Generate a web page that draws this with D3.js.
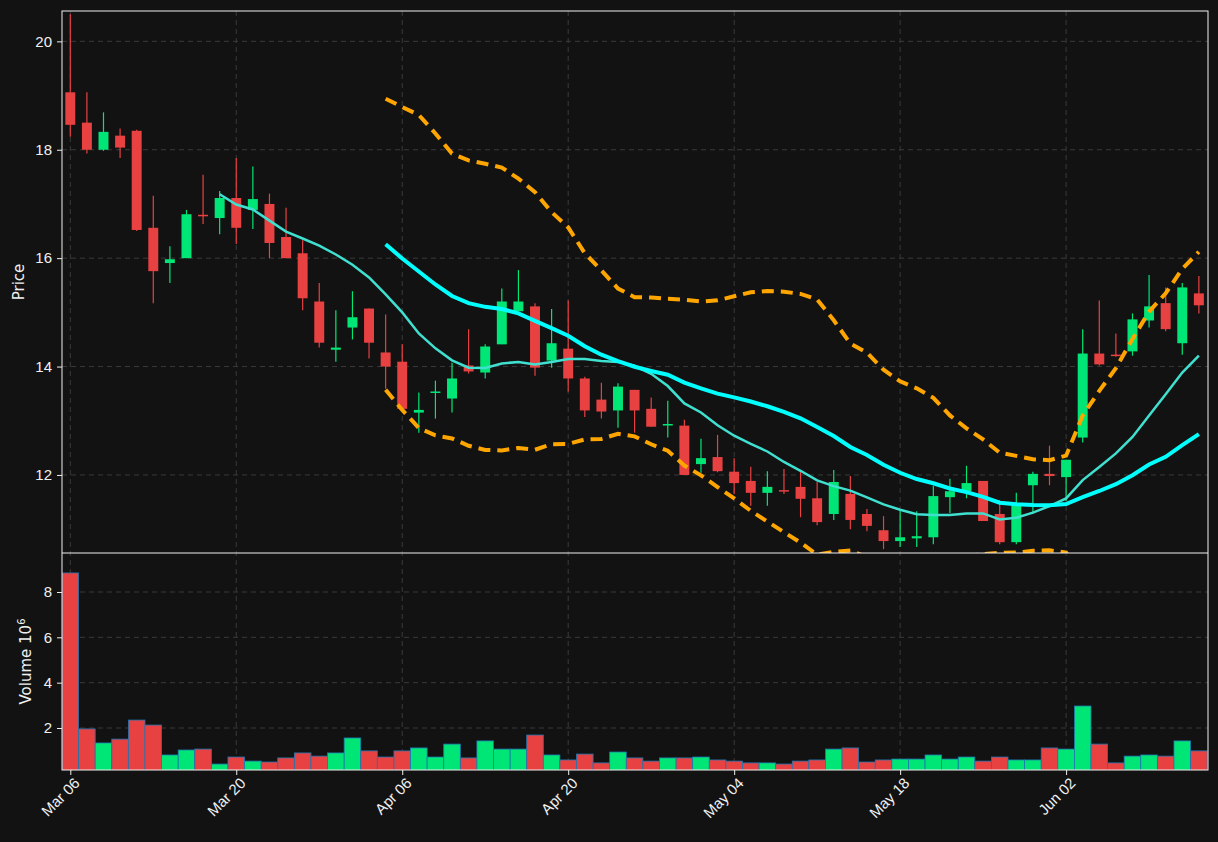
<!DOCTYPE html>
<html>
<head>
<meta charset="utf-8">
<script src="https://cdn.jsdelivr.net/npm/d3@7.9.0/dist/d3.min.js"></script>
<style>
  body { margin: 0; background: #121212; }
  svg { display: block; font-family: "DejaVu Sans", sans-serif; }
</style>
</head>
<body>
<svg id="chart" width="1218" height="842"></svg>
<script>
// OHLC, one entry per trading day
const opens  = [19.06,18.5,18.0,18.26,18.35,16.56,15.91,16.0,16.8,16.74,17.11,16.89,17.0,16.39,16.09,15.2,14.31,14.72,15.07,14.26,
  14.09,13.15,13.52,13.41,14.02,13.89,14.41,15.02,15.11,14.11,14.33,13.78,13.39,13.19,13.57,13.22,12.92,12.91,12.2,12.33,
  12.06,11.89,11.67,11.72,11.78,11.57,11.28,11.65,11.28,10.98,10.78,10.83,10.85,11.59,11.70,11.89,11.28,10.76,11.81,12.02,
  11.96,12.69,14.24,14.22,14.28,14.85,15.17,14.43,15.35];
const highs  = [20.5,19.06,18.69,18.39,18.37,17.15,16.22,16.89,17.54,17.24,17.85,17.69,17.19,16.93,16.33,15.54,15.04,15.39,15.07,14.96,
  14.41,13.52,13.74,14.07,14.69,14.41,15.44,15.78,15.17,15.06,15.22,13.81,13.7,13.69,13.57,13.43,13.37,13.02,12.67,12.74,
  12.31,12.15,12.07,12.11,12.09,11.87,12.09,11.98,11.37,11.24,11.35,11.33,11.8,11.93,12.17,11.89,11.54,11.67,12.06,12.54,
  12.28,14.69,15.22,14.61,14.98,15.69,15.46,15.54,15.67];
const lows   = [18.24,17.93,17.98,17.85,16.50,15.17,15.54,16.0,16.63,16.44,16.26,16.54,16.0,16.0,15.04,14.35,14.09,14.5,14.15,13.59,
  13.2,12.78,13.04,13.15,13.87,13.78,14.41,15.02,13.83,13.98,13.54,13.07,13.04,12.87,12.78,12.89,12.69,12.0,12.04,12.05,
  11.65,11.43,11.43,11.65,11.22,11.07,11.17,11.0,10.96,10.63,10.67,10.67,10.72,11.3,11.57,11.15,10.72,10.72,11.28,11.81,
  11.52,12.6,14.02,14.18,14.2,14.72,14.65,14.22,14.98];
const closes = [18.46,18.0,18.33,18.04,16.52,15.76,15.98,16.81,16.78,17.11,16.56,17.09,16.28,16.0,15.26,14.44,14.35,14.91,14.44,14.0,
  13.22,13.2,13.54,13.78,13.91,14.37,15.2,15.2,13.98,14.43,13.78,13.19,13.17,13.63,13.19,12.89,12.94,12.0,12.31,12.07,
  11.85,11.67,11.78,11.7,11.56,11.13,11.87,11.17,11.06,10.78,10.85,10.87,11.61,11.70,11.85,11.15,10.76,11.46,12.02,11.98,
  12.28,14.24,14.04,14.2,14.87,15.11,14.69,15.46,15.13];
// volume in millions
const volumes = [8.84,1.96,1.34,1.51,2.35,2.13,0.81,1.03,1.07,0.41,0.72,0.54,0.5,0.68,0.9,0.76,0.9,1.56,0.99,0.72,
  0.99,1.12,0.72,1.29,0.68,1.43,1.07,1.07,1.69,0.81,0.59,0.85,0.46,0.94,0.68,0.54,0.68,0.68,0.72,0.59,
  0.54,0.46,0.46,0.41,0.54,0.59,1.07,1.12,0.5,0.59,0.63,0.63,0.81,0.63,0.72,0.54,0.72,0.59,0.59,1.12,
  1.07,2.97,1.29,0.46,0.76,0.81,0.76,1.43,0.99];
const tickIdx = [0, 10, 20, 30, 40, 50, 60];
const tickLabels = ['Mar 06', 'Mar 20', 'Apr 06', 'Apr 20', 'May 04', 'May 18', 'Jun 02'];
const priceTicks = [12, 14, 16, 18, 20];
const volTicks = [2, 4, 6, 8];

const UP = '#00e676', DOWN = '#e84142', FG = '#f0f0f0', GRID = '#3a3a3a';
const n = closes.length;
const idx = d3.range(n);

// moving averages and Bollinger bands from the closes
function rolling(w, f) {
  return idx.map(i => i < w - 1 ? null : f(closes.slice(i - w + 1, i + 1)));
}
const ma10 = rolling(10, d3.mean);
const ma20 = rolling(20, d3.mean);
const sd20 = rolling(20, a => { const m = d3.mean(a); return Math.sqrt(d3.mean(a, v => (v - m) ** 2)); });
const bbUp = idx.map(i => ma20[i] == null ? null : ma20[i] + 2 * sd20[i]);
const bbLo = idx.map(i => ma20[i] == null ? null : ma20[i] - 2 * sd20[i]);

const svg = d3.select('#chart');
svg.append('rect').attr('width', 1218).attr('height', 842).attr('fill', '#121212');

const L = 62, R = 1208, pTop = 11, pBot = 553, vTop = 553, vBot = 770;
const x = d3.scaleLinear().domain([-0.5, 68.55]).range([L, R]);
const yP = d3.scaleLinear().domain([10.56, 20.56]).range([pBot, pTop]);
const yV = d3.scaleLinear().domain([0.147, 9.72]).range([vBot, vTop]);
const bw = (x(1) - x(0)) * 0.6;

svg.append('defs').append('clipPath').attr('id', 'clipP')
  .append('rect').attr('x', L).attr('y', pTop).attr('width', R - L).attr('height', pBot - pTop);
svg.select('defs').append('clipPath').attr('id', 'clipV')
  .append('rect').attr('x', L).attr('y', vTop).attr('width', R - L).attr('height', vBot - vTop);

// grids
const grid = svg.append('g').attr('stroke', GRID).attr('stroke-dasharray', '5,4').attr('stroke-width', 1);
tickIdx.forEach(i => {
  grid.append('line').attr('x1', x(i)).attr('x2', x(i)).attr('y1', pTop).attr('y2', vBot);
});
priceTicks.forEach(t => grid.append('line').attr('x1', L).attr('x2', R).attr('y1', yP(t)).attr('y2', yP(t)));
volTicks.forEach(t => grid.append('line').attr('x1', L).attr('x2', R).attr('y1', yV(t)).attr('y2', yV(t)));

// candles
const pg = svg.append('g').attr('clip-path', 'url(#clipP)');
idx.forEach(i => {
  const c = closes[i] >= opens[i] ? UP : DOWN;
  pg.append('line').attr('x1', x(i)).attr('x2', x(i))
    .attr('y1', yP(highs[i])).attr('y2', yP(lows[i])).attr('stroke', c).attr('stroke-width', 1.2);
  const top = yP(Math.max(opens[i], closes[i])), bot = yP(Math.min(opens[i], closes[i]));
  pg.append('rect').attr('x', x(i) - bw / 2).attr('width', bw)
    .attr('y', top).attr('height', Math.max(bot - top, 1.5)).attr('fill', c);
});

// lines
const lineGen = arr => d3.line().defined(i => arr[i] != null).x(i => x(i)).y(i => yP(arr[i]))(idx);
pg.append('path').attr('d', lineGen(ma10)).attr('fill', 'none').attr('stroke', '#40e0d0').attr('stroke-width', 2.5);
pg.append('path').attr('d', lineGen(ma20)).attr('fill', 'none').attr('stroke', '#00ffff').attr('stroke-width', 4);
[bbUp, bbLo].forEach(b => pg.append('path').attr('d', lineGen(b)).attr('fill', 'none')
  .attr('stroke', '#ffa500').attr('stroke-width', 4).attr('stroke-dasharray', '12,7'));

// volume
const vg = svg.append('g').attr('clip-path', 'url(#clipV)');
const vw = x(1) - x(0);
idx.forEach(i => {
  vg.append('rect').attr('x', x(i) - vw / 2).attr('width', vw)
    .attr('y', yV(volumes[i])).attr('height', vBot - yV(volumes[i]) + 5)
    .attr('fill', closes[i] >= opens[i] ? UP : DOWN)
    .attr('stroke', '#1f77b4').attr('stroke-width', 0.8);
});

// frames
svg.append('rect').attr('x', L).attr('y', pTop).attr('width', R - L).attr('height', vBot - pTop)
  .attr('fill', 'none').attr('stroke', FG).attr('stroke-width', 1);
svg.append('line').attr('x1', L).attr('x2', R).attr('y1', pBot).attr('y2', pBot).attr('stroke', FG);

// axes
const styleAxis = g => {
  g.select('.domain').remove();
  g.selectAll('line').attr('stroke', FG);
  g.selectAll('text').attr('fill', FG).style('font-size', '15px');
};
svg.append('g').attr('transform', `translate(${L},0)`)
  .call(d3.axisLeft(yP).tickValues(priceTicks).tickSize(5).tickPadding(5)).call(styleAxis);
svg.append('g').attr('transform', `translate(${L},0)`)
  .call(d3.axisLeft(yV).tickValues(volTicks).tickSize(5).tickPadding(5)).call(styleAxis);
const xa = svg.append('g').attr('transform', `translate(0,${vBot})`)
  .call(d3.axisBottom(x).tickValues(tickIdx).tickFormat((d, k) => tickLabels[k]).tickSize(5)).call(styleAxis);
xa.selectAll('text').attr('text-anchor', 'end').attr('dx', '-0.2em').attr('dy', '0.6em')
  .attr('transform', 'rotate(-45)');

svg.append('text').attr('transform', `translate(24,${(pTop + pBot) / 2}) rotate(-90)`)
  .attr('text-anchor', 'middle').attr('fill', FG).style('font-size', '15px').text('Price');
const vl = svg.append('text').attr('transform', `translate(31,${(vTop + vBot) / 2}) rotate(-90)`)
  .attr('text-anchor', 'middle').attr('fill', FG).style('font-size', '15px');
vl.append('tspan').text('Volume  10');
vl.append('tspan').attr('dy', '-6').style('font-size', '10px').text('6');
</script>
</body>
</html>
